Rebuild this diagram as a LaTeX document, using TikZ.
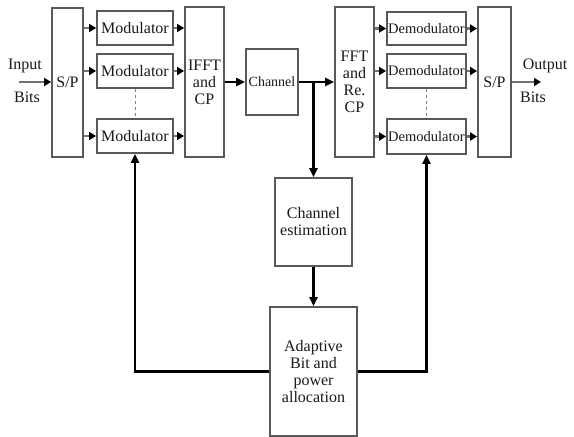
\documentclass[tikz,border=0pt]{standalone}
\usepackage{fontspec}
\setmainfont{Liberation Serif}
\usepackage{tikz}
\usetikzlibrary{arrows.meta, positioning}

\begin{document}
\begin{tikzpicture}[x=1pt, y=-1pt,
  box/.style={draw=black!65, line width=1.8pt, fill=white, align=center, inner sep=0pt,
    font=\fontsize{16}{17}\selectfont, text=black!90},
  arr/.style={line width=2.4pt, -{Triangle[length=9pt,width=8pt]}},
  small/.style={line width=2.4pt, draw=black!55, -{Triangle[length=7pt,width=8pt,color=black]}}]
\useasboundingbox (0,0) rectangle (574,437);
\node[box, minimum width=31, minimum height=149] (spl) at (67.5,82.5) {S/P};
\node[box, minimum width=76, minimum height=34] (mod1) at (135,28) {Modulator};
\node[box, minimum width=76, minimum height=34] (mod2) at (135,71) {Modulator};
\node[box, minimum width=76, minimum height=34] (mod3) at (135,136) {Modulator};
\node[box, minimum width=39, minimum height=150] (ifft) at (204.5,82) {IFFT\\and\\CP};
\node[box, minimum width=52, minimum height=66] (chan) at (272,82) {\fontsize{14}{15}\selectfont Channel};
\node[box, minimum width=39, minimum height=150] (fft) at (354.5,82) {FFT\\and\\Re.\\CP};
\node[box, minimum width=79, minimum height=33, font=\fontsize{14.5}{16}\selectfont] (dem1) at (426.5,28.5) {Demodulator};
\node[box, minimum width=79, minimum height=34, font=\fontsize{14.5}{16}\selectfont] (dem2) at (426.5,71) {Demodulator};
\node[box, minimum width=79, minimum height=35, font=\fontsize{14.5}{16}\selectfont] (dem3) at (426.5,136.5) {Demodulator};
\node[box, minimum width=33, minimum height=150] (spr) at (494.5,82) {S/P};
\node[box, minimum width=77, minimum height=88] (est) at (313.5,222) {Channel\\estimation};
\node[box, minimum width=87, minimum height=129] (adapt) at (313.5,371.5) {Adaptive\\Bit and\\power\\allocation};
\node[font=\fontsize{16}{17}\selectfont, text=black!90] (inp) at (25,66) {Input};
\node[font=\fontsize{16}{17}\selectfont, text=black!90] (inb) at (27,97) {Bits};
\node[font=\fontsize{16}{17}\selectfont, text=black!90] (outp) at (545,66) {Output};
\node[font=\fontsize{16}{17}\selectfont, text=black!90] (outb) at (533,97) {Bits};
\coordinate (inarr) at (19,82);
\coordinate (outarr) at (541,82);

\draw[small] (inarr) -- (spl.west |- inarr);
\draw[small] (spr.east |- outarr) -- (outarr);
\foreach \m in {mod1,mod2,mod3} {
  \draw[small] (spl.east |- \m.west) -- (\m.west);
  \draw[small] (\m.east) -- (ifft.west |- \m.east);
}
\foreach \d in {dem1,dem2,dem3} {
  \draw[small] (fft.east |- \d.west) -- (\d.west);
  \draw[small] (\d.east) -- (spr.west |- \d.east);
}
\draw[black!50, dashed, line width=0.8pt] (mod2.south) -- (mod3.north);
\draw[black!50, dashed, line width=0.8pt] (dem2.south) -- (dem3.north);
\draw[arr] (ifft.east |- chan.west) -- (chan.west);
\draw[arr] (chan.east) -- (fft.west |- chan.east);
\draw[arr] (chan.east -| est.north) -- (est.north);
\draw[arr] (est) -- (adapt);
\draw[arr] (adapt.west) -| (mod3.south);
\draw[arr] (adapt.east) -| (dem3.south);
\end{tikzpicture}
\end{document}
